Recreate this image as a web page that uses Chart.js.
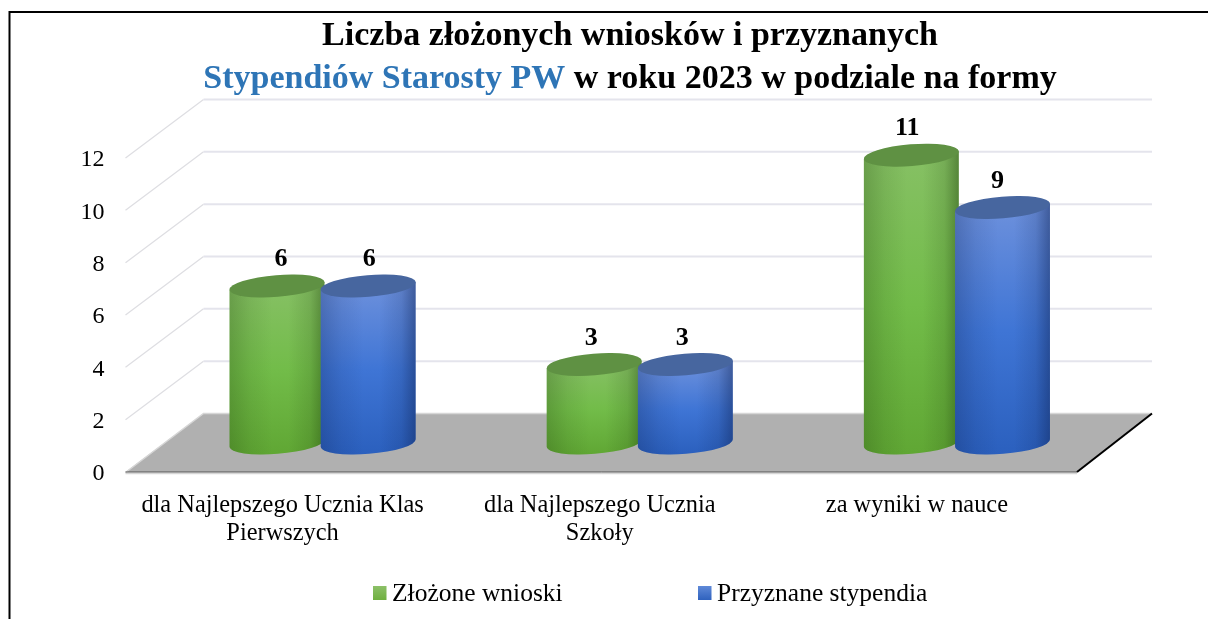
<!DOCTYPE html>
<html><head><meta charset="utf-8">
<script src="https://cdn.jsdelivr.net/npm/chart.js@4"></script>
<style>html,body{margin:0;padding:0;background:#fff}#w{position:absolute;left:0;top:0;width:1208px;height:619px}</style>
</head><body><div id="w"><canvas id="c" width="1208" height="619"></canvas></div>
<script>
const categories = [["dla Najlepszego Ucznia Klas","Pierwszych"],["dla Najlepszego Ucznia","Szkoły"],"za wyniki w nauce"];
const seriesNames = ["Złożone wnioski","Przyznane stypendia"];
const submitted = [6,3,11];
const granted = [6,3,9];
const yTicks = [0,2,4,6,8,10,12];
const titleLine1 = "Liczba złożonych wniosków i przyznanych";
const titleLine2Blue = "Stypendiów Starosty PW";
const titleLine2Black = " w roku 2023 w podziale na formy";

const FONT = '"Liberation Serif"';
const looks = [
 {top:'#86C064',mid:'#72BC49',bottom:'#60A734',edge:'rgba(35,70,15,',cap:'#5F9143',lg1:'#8CC068',lg2:'#6FB03F'},
 {top:'#6C90DC',mid:'#3F75D5',bottom:'#2B60BE',edge:'rgba(15,35,85,',cap:'#47669F',lg1:'#5F89D8',lg2:'#2F62BE'}
];
const DEPTH = {backL:78,backR:75,backY:-58.5,midX:38.5,midY:-29};
const LABEL_DX = [[4,1],[-3,-3],[-4,-5]];
const TILT = -4.6*Math.PI/180, RY = 10.9;

function cylinder(ctx,cx,yTop,yBase,rx,look){
  const sx=rx*Math.cos(TILT), sy=rx*Math.sin(TILT);
  ctx.save();
  ctx.beginPath();
  ctx.moveTo(cx-sx,yTop-sy);
  ctx.lineTo(cx-sx,yBase-sy);
  ctx.ellipse(cx,yBase,rx,RY,TILT,Math.PI,0,true);
  ctx.lineTo(cx+sx,yTop+sy);
  ctx.closePath();
  const v=ctx.createLinearGradient(0,yTop,0,yBase+RY);
  v.addColorStop(0,look.top);v.addColorStop(.5,look.mid);v.addColorStop(1,look.bottom);
  ctx.fillStyle=v;ctx.fill();
  const h=ctx.createLinearGradient(cx-sx,0,cx+sx,0);
  h.addColorStop(0,look.edge+'.28)');h.addColorStop(.22,look.edge+'.10)');h.addColorStop(.45,look.edge+'0)');
  h.addColorStop(.62,look.edge+'0)');h.addColorStop(.85,look.edge+'.16)');h.addColorStop(1,look.edge+'.48)');
  ctx.fillStyle=h;ctx.fill();
  ctx.beginPath();
  ctx.ellipse(cx,yTop,rx,RY,TILT,0,Math.PI*2);
  ctx.fillStyle=look.cap;ctx.fill();
  ctx.restore();
}

const scene = {
  id:'scene',
  beforeDraw(chart){
    const {ctx,chartArea:a,scales:{y}}=chart;
    ctx.save();
    ctx.strokeStyle='#000';ctx.lineWidth=2;
    ctx.beginPath();ctx.moveTo(9.5,619);ctx.lineTo(9.5,12);ctx.lineTo(1208,12);ctx.stroke();
    ctx.textBaseline='alphabetic';ctx.textAlign='left';
    ctx.font='bold 34px '+FONT;ctx.fillStyle='#000';
    const w1=ctx.measureText(titleLine1).width;
    ctx.fillText(titleLine1,630-w1/2,45);
    const wb=ctx.measureText(titleLine2Blue).width, wk=ctx.measureText(titleLine2Black).width;
    let x=630-(wb+wk)/2;
    ctx.fillStyle='#2E75B6';ctx.fillText(titleLine2Blue,x,88);
    ctx.fillStyle='#000';ctx.fillText(titleLine2Black,x+wb,88);
    const l=a.left,r=a.right,z=y.getPixelForValue(0);
    yTicks.forEach(v=>{
      if(v===0)return;
      const p=y.getPixelForValue(v);
      ctx.strokeStyle='#DEDEE2';ctx.lineWidth=1.3;
      ctx.beginPath();ctx.moveTo(l,p);ctx.lineTo(l+DEPTH.backL,p+DEPTH.backY);ctx.stroke();
      ctx.strokeStyle='#E4E4EC';ctx.lineWidth=2;
      ctx.beginPath();ctx.moveTo(l+DEPTH.backL,p+DEPTH.backY);ctx.lineTo(r+DEPTH.backR,p+DEPTH.backY);ctx.stroke();
    });
    ctx.beginPath();ctx.moveTo(l,z);ctx.lineTo(l+DEPTH.backL,z+DEPTH.backY);ctx.lineTo(r+DEPTH.backR,z+DEPTH.backY);ctx.lineTo(r,z);ctx.closePath();
    ctx.fillStyle='#B0B0B0';ctx.fill();
    ctx.strokeStyle='#D6D6D6';ctx.lineWidth=1.5;
    ctx.beginPath();ctx.moveTo(l,z+.5);ctx.lineTo(l+DEPTH.backL,z+DEPTH.backY);ctx.lineTo(r+DEPTH.backR,z+DEPTH.backY);ctx.stroke();
    ctx.beginPath();ctx.moveTo(l,z+1.5);ctx.lineTo(r,z+1.5);ctx.stroke();
    ctx.strokeStyle='#555';ctx.lineWidth=1;
    ctx.beginPath();ctx.moveTo(l,z);ctx.lineTo(r,z);ctx.stroke();
    ctx.strokeStyle='#000';ctx.lineWidth=2;
    ctx.beginPath();ctx.moveTo(r,z);ctx.lineTo(r+DEPTH.backR,z+DEPTH.backY);ctx.stroke();
    const lx=[373,698];
    seriesNames.forEach((n,i)=>{
      const g=ctx.createLinearGradient(0,586,0,600);
      g.addColorStop(0,looks[i].lg1);g.addColorStop(1,looks[i].lg2);
      ctx.fillStyle=g;ctx.fillRect(lx[i],586,13.5,14);
      ctx.fillStyle='#000';ctx.font='25.5px '+FONT;ctx.textBaseline='middle';ctx.textAlign='left';
      ctx.fillText(n,lx[i]+19,594.5);
    });
    ctx.restore();
  },
  beforeDatasetsDraw(chart){
    const ctx=chart.ctx;
    chart.data.datasets.forEach((d,i)=>{
      chart.getDatasetMeta(i).data.forEach(el=>{
        cylinder(ctx,el.x+DEPTH.midX,el.y+DEPTH.midY,el.base+DEPTH.midY,el.width/2+2,looks[i]);
      });
    });
  },
  beforeDatasetDraw(){return false;},
  afterDatasetsDraw(chart){
    const ctx=chart.ctx;
    ctx.save();ctx.font='bold 26px '+FONT;ctx.fillStyle='#000';ctx.textAlign='center';ctx.textBaseline='middle';
    chart.data.datasets.forEach((d,i)=>{
      chart.getDatasetMeta(i).data.forEach((el,j)=>{
        ctx.fillText(String(d.data[j]),el.x+DEPTH.midX+LABEL_DX[j][i],el.y+DEPTH.midY-26.5);
      });
    });
    ctx.restore();
  }
};

new Chart(document.getElementById('c'),{
  type:'bar',
  data:{labels:categories,datasets:[
    {label:seriesNames[0],data:submitted,backgroundColor:looks[0].mid},
    {label:seriesNames[1],data:granted,backgroundColor:looks[1].mid}
  ]},
  plugins:[scene],
  options:{
    responsive:false,animation:false,
    layout:{padding:{left:0,right:131,top:158,bottom:0}},
    plugins:{legend:{display:false},title:{display:false},tooltip:{enabled:false}},
    datasets:{bar:{categoryPercentage:.575,barPercentage:1}},
    scales:{
      x:{grid:{display:false},border:{display:false},
        afterFit(s){s.height=147;},
        ticks:{color:'#000',padding:12,labelOffset:-1.5,maxRotation:0,autoSkip:false,font:{family:FONT,size:24.4,lineHeight:1.15}}},
      y:{min:0,max:12,grid:{display:false},border:{display:false},
        afterFit(s){s.width=125.5;},
        afterBuildTicks(s){s.ticks=yTicks.map(v=>({value:v}));},
        ticks:{color:'#000',padding:13,labelOffset:2,font:{family:FONT,size:24}}}
    }
  }
});
</script></body></html>
